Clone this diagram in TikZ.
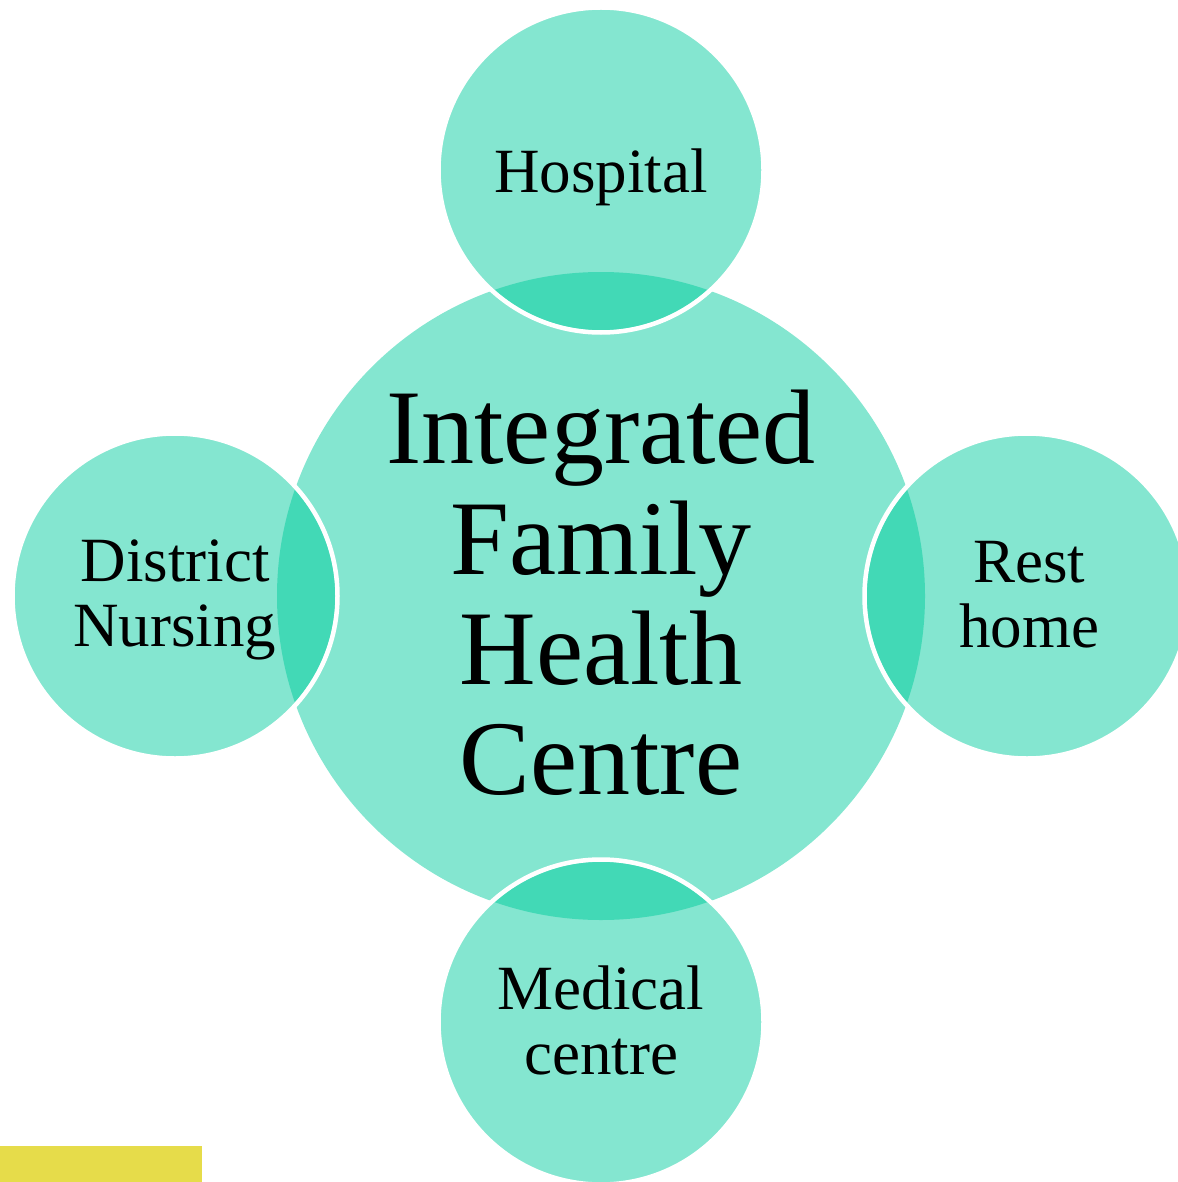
\documentclass[tikz,border=0pt]{standalone}
\usepackage{fontspec}
\setmainfont{Liberation Serif}
\definecolor{light}{HTML}{84E6D0}
\definecolor{dark}{HTML}{42D9B6}
\definecolor{bar}{HTML}{E6DC4A}
\begin{document}
\begin{tikzpicture}[x=1pt,y=-1pt,
  hub/.style={circle,fill=light,minimum size=648pt,inner sep=0pt},
  sat/.style={circle,fill=light,minimum size=322pt,inner sep=0pt},
  ring/.style={circle,draw=white,line width=4.5pt,minimum size=325pt,inner sep=0pt},
  bigtxt/.style={align=center,font=\fontsize{106}{110.3}\selectfont},
  smalltxt/.style={align=center,font=\fontsize{63}{65}\selectfont}]
\useasboundingbox (0,0) rectangle (1177,1182);
\node[hub] (c) at (601,596) {};
\foreach \n/\x/\y in {h/601/170, d/175/596, r/1027/596, m/601/1022}{
  \node[sat] (\n) at (\x,\y) {};
  \begin{scope}
    \clip (601,596) circle (324);
    \fill[dark] (\x,\y) circle (160.3);
  \end{scope}
  \node[ring] (\n ring) at (\x,\y) {};
}
\fill[bar] (0,1146) rectangle (202,1182);
\node[bigtxt] (ct) at (601,593) {Integrated\\Family\\Health\\Centre};
\node[smalltxt,anchor=base] (ht) at (601,193) {Hospital};
\node[smalltxt] (dt) at (175,599.5) {District\\Nursing};
\node[smalltxt] (rt) at (1029,595) {Rest\\home};
\node[smalltxt] (mt) at (601,1020.5) {Medical\\centre};
\end{tikzpicture}
\end{document}
